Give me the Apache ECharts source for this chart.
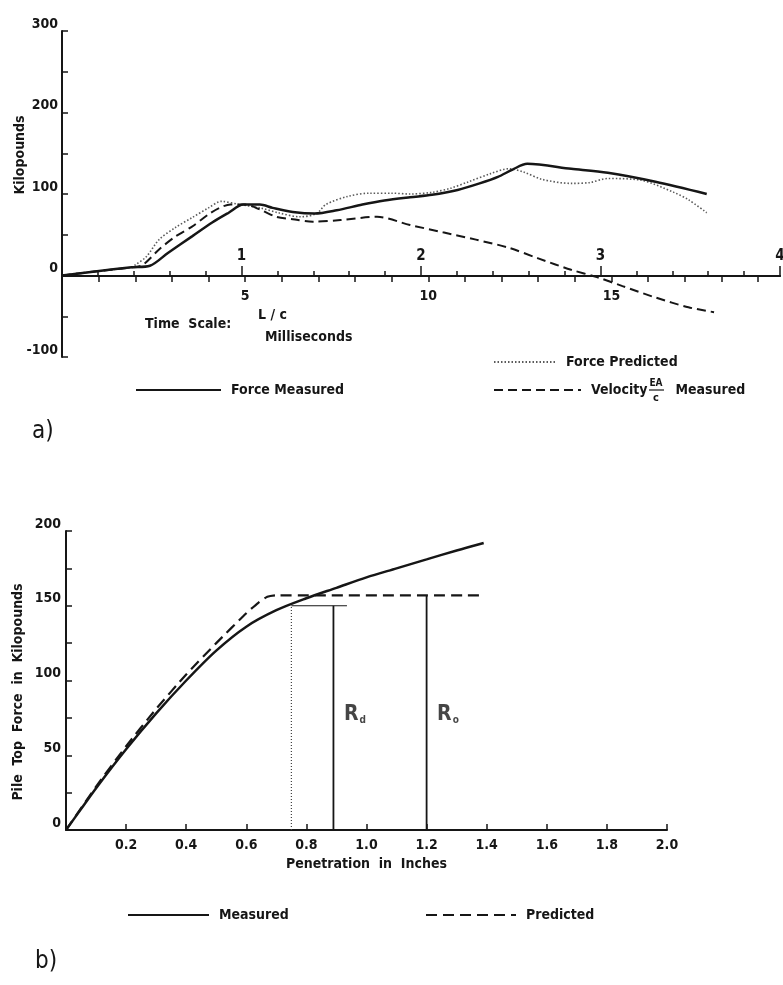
<!DOCTYPE html>
<html>
<head>
<meta charset="utf-8">
<script src="https://cdn.jsdelivr.net/npm/echarts@6/dist/echarts.min.js"></script>
<style>
  html, body { margin: 0; background: #fff; }
  #chart { width: 783px; height: 985px; }
</style>
</head>
<body>
<div id="chart"></div>
<script>
// panel a) force and velocity at pile top, time in ms, force in kips
const forceMeasuredMs = [0, 0.9, 1.9, 2.4, 2.9, 3.55, 4.1, 4.55, 4.95, 5.4, 5.75, 6.3, 6.9, 7.5, 8.2, 8.8, 9.5, 10.1, 10.8, 11.4, 11.9, 12.3, 12.7, 13.9, 14.9, 16.2, 17.6];
const forceMeasuredKips = [0, 5, 10, 12, 28, 48, 65, 77, 87, 87, 83, 78, 76, 80, 87, 92, 96, 99, 105, 113, 121, 130, 137, 131, 126, 115, 100];
const forcePredictedMs = [0, 0.9, 1.9, 2.0, 2.3, 2.65, 3.1, 3.55, 4.0, 4.35, 4.85, 5.4, 5.9, 6.5, 6.95, 7.2, 7.8, 8.4, 9.0, 9.5, 10.1, 10.6, 11.1, 11.7, 12.2, 12.6, 13.1, 13.9, 14.4, 14.9, 15.8, 16.7, 17.1, 17.6];
const forcePredictedKips = [0, 5, 10, 13, 23, 44, 59, 71, 83, 91, 87, 83, 77, 72, 76, 87, 97, 101, 101, 100, 102, 107, 115, 125, 131, 127, 118, 113, 114, 119, 117, 102, 93, 77];
const velocityMs = [0, 0.9, 1.9, 2.2, 2.65, 3.1, 3.55, 4.0, 4.3, 4.6, 5.0, 5.4, 5.85, 6.3, 6.85, 7.6, 8.6, 9.5, 10.4, 11.3, 12.2, 13.0, 13.9, 14.6, 15.3, 16.2, 17.1, 17.8];
const velocityKips = [0, 5, 10, 13, 32, 48, 60, 75, 83, 87, 87, 81, 72, 69, 66, 68, 72, 62, 53, 44, 34, 21, 7, -2, -13, -27, -39, -45];

const kipLabelsA = [-100, 0, 100, 200, 300];
const msTicks = [0, 1, 2, 3, 4, 5, 6, 7, 8, 9, 10, 11, 12, 13, 14, 15, 16, 17, 18, 19];
const msLabels = [5, 10, 15];
const lcLabels = [1, 2, 3, 4];

// panel b) pile top force vs penetration
const measuredInches = [0, 0.05, 0.1, 0.2, 0.3, 0.4, 0.5, 0.6, 0.7, 0.8, 0.9, 1.0, 1.1, 1.2, 1.3, 1.39];
const measuredKips = [0, 14, 28, 54, 78, 100, 120, 136, 147, 155, 162, 169, 175, 181, 187, 192];
const predictedInches = [0, 0.1, 0.2, 0.3, 0.4, 0.5, 0.6, 0.64, 0.67, 0.7, 1.39];
const predictedKips = [0, 29, 56, 81, 104, 125, 145, 152, 156, 157, 157];

const dottedGuideInches = [0.75, 0.75];
const dottedGuideKips = [0, 150];
const capGuideInches = [0.75, 0.935];
const capGuideKips = [150, 150];
const rdGuideInches = [0.89, 0.89];
const rdGuideKips = [0, 150];
const roGuideInches = [1.2, 1.2];
const roGuideKips = [0, 157];
const rdLabelAt = [0.925, 77];
const roLabelAt = [1.235, 77];

const kipLabelsB = [0, 50, 100, 150, 200];
const inchLabels = [0.2, 0.4, 0.6, 0.8, 1.0, 1.2, 1.4, 1.6, 1.8, 2.0];

const FONT = '"Liberation Sans Narrow", "DejaVu Sans Condensed", "Roboto Condensed", sans-serif';
const INK = '#161616';

function pairs(xs, ys) {
  return xs.map((x, i) => [x, ys[i]]);
}

function textStyle(size, weight) {
  return { fontFamily: FONT, fontSize: size, fontWeight: weight || 'bold', color: INK };
}

const axisLine = { onZero: false, lineStyle: { color: INK, width: 2 } };
const tickLine = { color: INK, width: 1.5 };

function guideSeries(xs, ys, width, type, color) {
  return {
    type: 'line', xAxisIndex: 1, yAxisIndex: 1, data: pairs(xs, ys),
    symbol: 'none', silent: true, z: 1,
    lineStyle: { color: color || INK, width: width, type: type || 'solid' },
  };
}

function rLabel(at, sub) {
  return {
    type: 'scatter', xAxisIndex: 1, yAxisIndex: 1, data: [at], symbolSize: 0, silent: true,
    label: {
      show: true, position: 'right', distance: 0,
      formatter: '{r|R}{s|' + sub + '}',
      rich: {
        r: { fontFamily: FONT, fontSize: 21, fontWeight: 'bold', color: INK },
        s: { fontFamily: FONT, fontSize: 10, fontWeight: 'bold', color: INK, verticalAlign: 'bottom', padding: [10, 0, 0, 1] },
      },
    },
  };
}

function legendAt(name, left, top, width, formatter) {
  return {
    data: [name], left: left, top: top, padding: 0,
    itemWidth: width, itemHeight: 14, selectedMode: false,
    itemStyle: { opacity: 0 },
    textStyle: Object.assign(textStyle(14), { padding: [0, 0, 0, 5], rich: { g: { width: 28 } } }),
    formatter: formatter,
  };
}

function hiddenY(gridIndex) {
  return { type: 'value', gridIndex: gridIndex, min: 0, max: 1, show: false, splitLine: { show: false } };
}

const chart = echarts.init(document.getElementById('chart'), null, { renderer: 'canvas' });

chart.setOption({
  animation: false,
  backgroundColor: '#fff',
  grid: [
    // data area of panel a
    { left: 62, top: 31, width: 718, height: 326, outerBoundsMode: 'none' },
    // panel b
    { left: 66, top: 531, width: 601, height: 299, outerBoundsMode: 'none' },
    // ms scale sits on the zero line, labels below
    { left: 62, top: 31, width: 718, height: 245, outerBoundsMode: 'none' },
    // L/c scale on the zero line, labels above
    { left: 62, top: 276, width: 718, height: 81, outerBoundsMode: 'none' },
  ],
  xAxis: [
    {
      type: 'value', gridIndex: 0, min: 0, max: 19.6, show: false, splitLine: { show: false },
    },
    {
      type: 'value', gridIndex: 1, min: 0, max: 2, interval: 0.2,
      axisLine: axisLine,
      axisTick: { inside: true, length: 6, lineStyle: tickLine },
      axisLabel: Object.assign(textStyle(14), {
        margin: 8, customValues: inchLabels, formatter: (v) => v.toFixed(1),
      }),
      splitLine: { show: false },
      name: 'Penetration  in  Inches', nameLocation: 'middle', nameGap: 27,
      nameTextStyle: textStyle(14),
    },
    {
      type: 'value', gridIndex: 2, position: 'bottom', min: 0, max: 19.6,
      axisLine: axisLine,
      axisTick: { length: 6, lineStyle: tickLine, customValues: msTicks },
      axisLabel: Object.assign(textStyle(14), { margin: 13, customValues: msLabels }),
      splitLine: { show: false },
    },
    {
      type: 'value', gridIndex: 3, position: 'top', min: 0, max: 4, interval: 1,
      axisLine: axisLine,
      axisTick: { length: 10, lineStyle: tickLine },
      minorTick: { show: true, splitNumber: 5, length: 5, lineStyle: tickLine },
      axisLabel: Object.assign(textStyle(15), { margin: 12, customValues: lcLabels }),
      splitLine: { show: false },
    },
  ],
  yAxis: [
    {
      type: 'value', gridIndex: 0, min: -100, max: 300, interval: 50,
      axisLine: { onZero: false, lineStyle: { color: INK, width: 2 } },
      axisTick: { inside: true, length: 6, lineStyle: tickLine },
      axisLabel: Object.assign(textStyle(14), { margin: 4, verticalAlign: 'bottom', customValues: kipLabelsA }),
      splitLine: { show: false },
    },
    {
      type: 'value', gridIndex: 1, min: 0, max: 200, interval: 25,
      axisLine: { onZero: false, lineStyle: { color: INK, width: 2 } },
      axisTick: { inside: true, length: 6, lineStyle: tickLine },
      axisLabel: Object.assign(textStyle(14), { margin: 5, verticalAlign: 'bottom', customValues: kipLabelsB }),
      splitLine: { show: false },
    },
    hiddenY(2),
    hiddenY(3),
  ],
  legend: [
    legendAt('Force Predicted', 493, 355, 62),
    legendAt('Force Measured', 135, 383, 85),
    legendAt('Velocity Measured', 493, 383, 87, 'Velocity{g| }Measured'),
    legendAt('Measured', 127, 908, 81),
    legendAt('Predicted', 425, 908, 90),
  ],
  series: [
    {
      name: 'Force Predicted', type: 'line', data: pairs(forcePredictedMs, forcePredictedKips),
      symbol: 'none', smooth: 0.3, z: 2,
      lineStyle: { color: '#5a5a5a', width: 1.6, type: [1.5, 2] },
    },
    {
      name: 'Velocity Measured', type: 'line', data: pairs(velocityMs, velocityKips),
      symbol: 'none', smooth: 0.3, z: 3,
      lineStyle: { color: INK, width: 2, type: [9, 5] },
    },
    {
      name: 'Force Measured', type: 'line', data: pairs(forceMeasuredMs, forceMeasuredKips),
      symbol: 'none', smooth: 0.3, z: 4,
      lineStyle: { color: INK, width: 2.5 },
    },
    {
      name: 'Measured', type: 'line', xAxisIndex: 1, yAxisIndex: 1,
      data: pairs(measuredInches, measuredKips), symbol: 'none', smooth: 0.3, z: 3,
      lineStyle: { color: INK, width: 2.5 },
    },
    {
      name: 'Predicted', type: 'line', xAxisIndex: 1, yAxisIndex: 1,
      data: pairs(predictedInches, predictedKips), symbol: 'none', smooth: 0.2, z: 2,
      lineStyle: { color: INK, width: 2.2, type: [11, 6] },
    },
    guideSeries(dottedGuideInches, dottedGuideKips, 1.2, [1, 2], '#444'),
    guideSeries(capGuideInches, capGuideKips, 1),
    guideSeries(rdGuideInches, rdGuideKips, 1.8),
    guideSeries(roGuideInches, roGuideKips, 1.8),
    rLabel(rdLabelAt, 'd'),
    rLabel(roLabelAt, 'o'),
  ],
  graphic: [
    {
      type: 'text', x: 20, y: 155, rotation: Math.PI / 2,
      style: { text: 'Kilopounds', font: 'bold 14px ' + FONT, fill: INK, align: 'center', verticalAlign: 'middle' },
    },
    {
      type: 'text', x: 145, y: 324,
      style: { text: 'Time  Scale:', font: 'bold 14px ' + FONT, fill: INK, verticalAlign: 'middle' },
    },
    {
      type: 'text', x: 258, y: 315,
      style: { text: 'L / c', font: 'bold 14px ' + FONT, fill: INK, verticalAlign: 'middle' },
    },
    {
      type: 'text', x: 265, y: 337,
      style: { text: 'Milliseconds', font: 'bold 14px ' + FONT, fill: INK, verticalAlign: 'middle' },
    },
    {
      type: 'text', x: 656, y: 383,
      style: { text: 'EA', font: 'bold 10px ' + FONT, fill: INK, align: 'center', verticalAlign: 'middle' },
    },
    {
      type: 'line', shape: { x1: 649, y1: 390, x2: 664, y2: 390 },
      style: { stroke: INK, lineWidth: 1.2 },
    },
    {
      type: 'text', x: 656, y: 398,
      style: { text: 'c', font: 'bold 11px ' + FONT, fill: INK, align: 'center', verticalAlign: 'middle' },
    },
    {
      type: 'text', x: 32, y: 432,
      style: { text: 'a)', font: '24px ' + FONT, fill: INK, verticalAlign: 'middle' },
    },
    {
      type: 'text', x: 18, y: 692, rotation: Math.PI / 2,
      style: { text: 'Pile  Top  Force  in  Kilopounds', font: 'bold 14px ' + FONT, fill: INK, align: 'center', verticalAlign: 'middle' },
    },
    {
      type: 'text', x: 35, y: 962,
      style: { text: 'b)', font: '24px ' + FONT, fill: INK, verticalAlign: 'middle' },
    },
  ],
});
</script>
</body>
</html>
